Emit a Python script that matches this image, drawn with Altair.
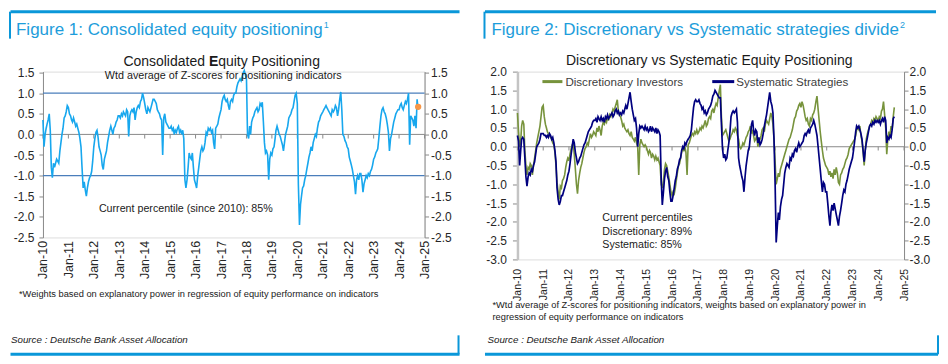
import altair as alt
import pandas as pd

# ---------------- data (semi-monthly readings, 1st and 16th of each month) ----------------
CONS = [
    0.35, -0.3, 0.0, 0.15, 0.25, 0.35, 0.5, 0.1, -0.8, -1.05, -0.7, -0.8, -0.7, -0.6, -0.65, -0.7, -0.4, -0.2, 0.0, 0.15, 0.4, 0.45, 0.55, 0.7,
    0.65, 0.5, 0.45, 0.35, 0.3, 0.4, 0.3, 0.2, 0.25, 0.15, 0.05, -0.1, -0.3, -0.8, -1.3, -1.15, -1.35, -1.5, -1.3, -1.15, -1.05, -1.0, -0.9, -0.65,
    -0.3, -0.1, 0.05, 0.1, -0.05, -0.3, -0.4, -0.5, -0.75, -0.85, -0.6, -0.5, -0.4, -0.2, -0.05, 0.1, 0.2, 0.1, 0.0, 0.15, 0.2, 0.3, 0.35, 0.45,
    0.45, 0.4, 0.5, 0.45, 0.55, 0.5, 0.45, 0.6, 0.55, -0.05, 0.45, 0.55, 0.6, 0.55, 0.65, 0.35, 0.55, 0.65, 0.7, 0.65, 0.8, 0.85, 1.0, 0.9,
    0.75, 0.6, 0.5, 0.65, 0.6, 0.55, 0.65, 0.75, 0.85, 0.85, 0.8, 0.75, 0.6, 0.55, 0.5, 0.4, 0.35, -0.5, 0.4, 0.5, 0.3, 0.25, 0.2, 0.15,
    0.15, 0.2, 0.1, 0.15, 0.0, 0.1, 0.05, 0.15, 0.2, 0.05, 0.1, 0.0, 0.1, -0.1, -1.1, -1.3, -1.1, -0.8, -0.45, -0.55, -0.6, -0.45, -0.8, -1.1,
    -1.2, -1.3, -1.0, -0.8, -0.6, -0.4, -0.3, -0.4, -0.35, -0.2, 0.05, 0.0, 0.15, 0.1, 0.15, 0.05, 0.1, -0.2, -0.35, 0.15, 0.2, 0.25, 0.4, 0.5,
    0.6, 0.8, 0.9, 0.95, 0.85, 0.8, 0.85, 0.7, 0.6, 0.8, 0.85, 0.8, 0.95, 1.0, 1.0, 1.15, 1.25, 1.3, 1.35, 1.3, 1.4, 1.5, 1.55, 1.45,
    1.35, 0.0, -0.1, 0.2, 0.0, 0.3, 0.4, 0.45, 0.55, 0.6, 0.65, 0.55, 0.6, 0.75, 0.7, 0.78, 0.3, -0.2, -0.45, -0.4, -0.5, -1.1, -0.6, -0.45,
    -0.5, -0.35, -0.3, -0.1, 0.1, 0.2, 0.1, 0.0, -0.05, -0.15, -0.25, -0.4, -0.2, 0.0, 0.1, 0.2, 0.4, 0.45, 0.5, 0.6, 0.65, 0.8, 0.95, 1.0,
    0.75, -1.2, -2.2, -1.7, -1.5, -1.3, -1.25, -1.1, -1.0, -0.85, -0.7, -0.55, -0.45, -0.3, -0.4, -0.2, -0.1, 0.0, -0.05, 0.15, 0.3, 0.35, 0.45, 0.5,
    0.55, 0.6, 0.65, 0.7, 0.65, 0.6, 0.55, 0.5, 0.45, 0.6, 0.55, 0.6, 0.7, 0.65, 0.45, 0.6, 0.85, 1.03, 0.6, 0.0, -0.05, -0.15, -0.2, -0.3,
    -0.35, -0.55, -0.65, -0.75, -0.85, -1.0, -1.15, -1.45, -1.1, -1.0, -1.1, -0.95, -0.95, -1.1, -1.4, -1.2, -1.1, -1.0, -1.05, -0.95, -1.0, -0.9, -0.85, -0.75,
    -0.6, -0.55, -0.45, -0.4, -0.35, -0.1, 0.2, 0.45, 0.6, 0.65, 0.55, 0.5, 0.4, 0.25, 0.05, -0.4, -0.1, 0.0, 0.15, 0.3, 0.4, 0.5, 0.55, 0.6,
    0.6, 0.7, 0.75, 0.65, 0.6, 0.7, 0.8, 0.75, 0.85, 1.0, -0.25, 0.45, 0.4, 0.35, 0.2, 0.45, 0.15, 0.85, 0.6,
]
CONS_LATEST = 0.67

DISC = [
    0.9, 0.4, 0.0, 0.15, 0.55, 0.7, 0.6, -0.1, -0.5, -0.75, -0.55, -0.6, -0.45, -0.5, -0.75, -0.5, -0.3, -0.1, 0.1, 0.25, 0.4, 0.55, 0.8, 1.05,
    1.1, 0.8, 0.6, 0.5, 0.4, 0.35, 0.3, 0.25, 0.2, 0.1, 0.05, -0.15, -0.5, -0.95, -1.2, -1.4, -1.05, -1.1, -0.9, -0.85, -0.75, -0.55, -0.4, -0.3,
    -0.35, -0.2, -0.05, 0.05, 0.1, -0.2, -0.6, -1.0, -1.25, -0.9, -0.7, -0.55, -0.45, -0.3, -0.15, -0.05, 0.0, 0.1, 0.05, 0.2, 0.35, 0.25, 0.3, 0.4,
    0.35, 0.3, 0.5, 0.4, 0.55, 0.45, 0.3, 0.55, 0.65, 0.6, 0.7, 0.65, 0.8, 0.7, 0.85, 0.8, 0.9, 1.0, 0.95, 1.05, 1.15, 1.25, 0.95, 0.85,
    0.8, 0.7, 0.55, 0.6, 0.5, 0.45, 0.4, 0.45, 0.35, 0.3, 0.4, 0.25, 0.2, 0.15, 0.25, 0.1, 0.0, -0.75, 0.05, 0.2, 0.1, 0.05, 0.0, 0.05,
    0.0, -0.1, -0.2, -0.1, -0.15, -0.3, -0.2, -0.25, -0.35, -0.25, -0.35, -0.3, -0.4, -0.5, -1.0, -1.1, -0.9, -0.6, -0.45, -0.5, -0.65, -0.8, -1.0, -1.2,
    -1.3, -1.2, -1.25, -1.1, -0.9, -0.7, -0.5, -0.45, -0.3, -0.15, -0.05, -0.1, 0.0, -0.15, -0.75, 0.05, 0.1, 0.2, 0.3, 0.35, 0.3, 0.4, 0.35, 0.45,
    0.35, 0.4, 0.5, 0.45, 0.55, 0.5, 0.6, 0.7, 0.55, 0.6, 0.75, 0.8, 0.75, 0.95, 1.0, 0.9, 1.05, 1.15, 1.1, 1.3, 1.5, 1.65, 0.8, 0.3,
    0.35, 0.4, 0.45, 0.35, 0.25, 0.15, 0.2, 0.3, 0.35, 0.45, 0.4, 0.5, 0.45, 0.3, 0.2, 0.0, -0.05, 0.0, 0.1, 0.05, 0.15, 0.25, 0.3, 0.4,
    0.45, 0.55, 0.35, 0.45, 0.3, 0.15, 0.2, 0.3, 0.0, 0.15, 0.2, 0.3, 0.45, 0.5, 0.4, 0.6, 0.7, 0.65, 0.6, 0.75, 0.9, 0.8, 0.6, 0.2,
    -0.4, -1.0, -0.85, -0.7, -0.8, -0.6, -0.5, -0.4, -0.3, -0.2, -0.1, 0.0, 0.1, 0.2, 0.25, 0.35, 0.45, 0.6, 0.75, 0.8, 0.95, 1.0, 1.1, 1.15,
    1.05, 1.2, 1.1, 0.95, 0.8, 0.7, 0.75, 0.6, 0.55, 0.75, 0.7, 0.85, 0.9, 1.0, 1.2, 1.35, 1.0, 0.7, 0.4, 0.15, -0.1, -0.3, -0.4, -0.5,
    -0.55, -0.6, -0.75, -0.65, -0.8, -0.7, -0.85, -0.6, -0.75, -0.55, -0.7, -0.95, -1.0, -0.75, -0.7, -0.6, -0.55, -0.45, -0.35, -0.3, -0.2, -0.05, 0.0, 0.05,
    0.1, 0.15, 0.2, 0.3, 0.45, 0.5, 0.45, 0.55, 0.3, 0.15, -0.15, -0.5, -0.1, 0.2, 0.35, 0.45, 0.55, 0.6, 0.7, 0.65, 0.75, 0.7, 0.8, 0.75,
    0.7, 0.8, 0.75, 0.95, 1.0, 1.2, 0.85, 0.5, -0.2, 0.2, 0.4, 0.3, 0.55, 0.45, 0.8, 1.05,
]

SYST = [
    0.3, 0.15, -0.5, -0.1, 0.2, 0.25, 0.2, -0.3, -0.8, -1.05, -0.8, -0.7, -0.75, -0.6, -0.65, -0.5, -0.4, -0.2, 0.0, 0.05, 0.1, 0.2, 0.35, 0.35,
    0.35, 0.3, 0.3, 0.25, 0.3, 0.25, 0.35, 0.3, 0.2, 0.25, 0.1, -0.1, -0.4, -1.1, -1.4, -1.55, -1.45, -1.3, -1.3, -1.2, -1.1, -1.0, -0.9, -0.75,
    -0.65, -0.45, -0.2, 0.0, 0.2, 0.1, -0.15, -0.3, -0.45, -0.4, -0.3, -0.25, -0.15, -0.05, 0.05, 0.1, 0.2, 0.3, 0.4, 0.45, 0.5, 0.55, 0.65, 0.7,
    0.7, 0.75, 0.65, 0.8, 0.75, 0.7, 0.8, 0.7, 0.75, 0.65, 0.8, 0.75, 0.85, 0.75, 0.8, 0.85, 0.9, 0.8, 0.85, 0.95, 1.0, 0.9, 0.95, 0.85,
    0.9, 0.85, 0.95, 0.9, 1.0, 1.1, 1.0, 1.15, 1.3, 1.45, 1.2, 1.0, 0.85, 0.7, 0.75, 0.5, 0.0, 0.35, 0.55, 0.5, 0.55, 0.5, 0.45, 0.55,
    0.45, 0.5, 0.4, 0.45, 0.55, 0.4, 0.5, 0.45, 0.4, 0.5, 0.35, 0.45, 0.4, 0.3, -0.9, -1.55, -1.2, -0.85, -0.65, -0.55, -0.8, -0.9, -1.2, -1.45,
    -1.45, -1.3, -1.1, -0.9, -0.8, -0.6, -0.5, -0.35, -0.3, -0.1, 0.0, -0.05, 0.1, 0.05, 0.15, 0.2, 0.25, 0.3, 0.45, 0.75, 1.05, 1.2, 1.25, 1.2,
    1.2, 1.25, 1.15, 1.1, 1.0, 1.05, 0.9, 0.95, 0.85, 0.9, 1.0, 1.05, 1.1, 1.2, 1.35, 1.4, 1.5, 1.45, 1.4, 1.35, 1.3, 1.3, 0.6, -0.05,
    -0.3, -0.2, -0.35, -0.3, -0.1, 0.1, 0.4, 0.8, 0.9, 0.95, 0.9, 0.95, 1.0, 0.65, -0.3, -0.5, -0.65, -0.8, -0.9, -1.2, -0.8, -0.5, -0.3, -0.1,
    0.0, 0.3, 0.6, 0.7, 0.45, 0.3, 0.45, 0.4, 0.1, 0.25, 0.05, 0.1, 0.2, 0.35, 0.55, 0.7, 0.85, 1.05, 1.25, 1.45, 1.2, 1.1, 0.9, 0.2,
    -1.0, -2.55, -2.1, -1.75, -1.95, -1.6, -1.4, -1.3, -1.0, -0.7, -0.55, -0.45, -0.5, -0.55, -0.3, -0.35, -0.2, -0.25, -0.1, -0.05, -0.15, 0.0, 0.1, 0.0,
    0.05, 0.1, 0.15, 0.3, 0.35, 0.3, 0.4, 0.45, 0.35, 0.5, 0.55, 0.6, 0.7, 0.6, 0.45, 0.3, 0.0, -0.3, -0.6, -0.9, -1.2, -0.95, -1.0, -1.2,
    -1.2, -1.5, -1.85, -2.1, -1.75, -1.55, -1.7, -1.5, -1.65, -1.8, -1.95, -2.1, -1.85, -1.7, -1.5, -1.3, -1.15, -1.2, -1.0, -0.9, -0.75, -0.6, -0.5, -0.4,
    -0.3, -0.1, 0.15, 0.4, 0.55, 0.5, 0.55, 0.45, 0.35, 0.2, -0.1, -0.4, -0.1, 0.1, 0.25, 0.4, 0.55, 0.6, 0.55, 0.65, 0.6, 0.7, 0.65, 0.7,
    0.65, 0.7, 0.6, 0.7, 0.75, 0.65, 0.8, 0.7, 0.1, 0.25, 0.2, 0.3, 0.25, 0.45, 0.75, 0.8,
]

TICK_YEARS = list(range(2010, 2026))
Y1_TICKS = [-2.5, -2.0, -1.5, -1.0, -0.5, 0.0, 0.5, 1.0, 1.5]
Y2_TICKS = [-3.0, -2.5, -2.0, -1.5, -1.0, -0.5, 0.0, 0.5, 1.0, 1.5, 2.0]
BANDS = [1.0, -1.0]


def half_month_dates(n):
    out = []
    for k in range(n):
        yr, i = 2010 + k // 24, k % 24
        out.append(pd.Timestamp(year=yr, month=i // 2 + 1, day=1 if i % 2 == 0 else 16))
    return out


cons_df = pd.DataFrame({"date": half_month_dates(len(CONS)), "value": CONS})
disc_df = pd.DataFrame({"date": half_month_dates(len(DISC)), "value": DISC})
syst_df = pd.DataFrame({"date": half_month_dates(len(SYST)), "value": SYST})
dot_df = pd.DataFrame({"date": [cons_df["date"].iloc[-1]], "value": [CONS_LATEST]})
ticks_df = pd.DataFrame({"date": [pd.Timestamp(year=y, month=1, day=1) for y in TICK_YEARS]})
one = pd.DataFrame({"k": [0]})

# ---------------- style ----------------
FONT = "Liberation Sans"
FRAME = "#0a97d9"
TITLE_BLUE = "#1d9ddb"
LINE_BLUE = "#17a7ee"
GREEN = "#77933c"
NAVY = "#00007f"
ORANGE = "#f79646"
STEEL = "#4a7ebb"
GREY = "#8a8a8a"
TXT = "#1a1a1a"

XS = alt.Scale(domain=[alt.DateTime(year=2010, month=1, date=1), alt.DateTime(year=2025, month=1, date=1)])
X_VALUES = [alt.DateTime(year=y, month=1, date=1) for y in TICK_YEARS]
LABEL_EXPR = "replace(format(datum.value, '.1f'), '\u2212', '-')"


def x_enc(pad, size):
    return alt.X("date:T", scale=XS, axis=alt.Axis(
        values=X_VALUES, format="%b-%y", labelAngle=-90, labelPadding=pad,
        domain=False, ticks=False, grid=False, title=None,
        labelFont=FONT, labelFontSize=size, labelColor="#262626"))


def y_axis(orient, ticks, tick_size, pad, dom_color=GREY, dom_width=1):
    return alt.Axis(orient=orient, values=ticks, labelExpr=LABEL_EXPR, grid=False, title=None,
                    domainColor=dom_color, domainWidth=dom_width, tickColor=GREY, tickSize=tick_size,
                    labelPadding=pad, labelFont=FONT, labelFontSize=12, labelColor="#262626")


def text(s, x, y, size, color=TXT, align="left", weight="normal", style="normal", font=FONT):
    return alt.Chart(one).mark_text(align=align, baseline="alphabetic", fontSize=size, font=font,
                                    fontWeight=weight, fontStyle=style, color=color).encode(
        x=alt.value(x), y=alt.value(y), text=alt.value(s))


def hrule(x1, x2, y, color, width):
    return alt.Chart(one).mark_rule(color=color, strokeWidth=width).encode(
        x=alt.value(x1), x2=alt.value(x2), y=alt.value(y))


def vrule(x, y1, y2, color, width):
    return alt.Chart(one).mark_rule(color=color, strokeWidth=width).encode(
        x=alt.value(x), y=alt.value(y1), y2=alt.value(y2))


def frame(right_top, right_bottom, vline_x):
    return [
        hrule(-32.5, right_top, -60, FRAME, 3),
        vrule(-33, -60, -33, FRAME, 2),
        hrule(-32.5, right_bottom, 283, FRAME, 3),
        vrule(vline_x, 264, 283, FRAME, 2),
    ]


# ---------------- left panel ----------------
ys1 = alt.Scale(domain=[-2.5, 1.524], nice=False, zero=False)
ax1 = y_axis("left", Y1_TICKS, 4, 5)
xe1 = x_enc(3, 12.5)

left_inner = alt.layer(
    alt.Chart(one).mark_rule(color=STEEL, strokeWidth=1.3).encode(y=alt.YDatum(BANDS[0], scale=ys1, axis=ax1)),
    alt.Chart(one).mark_rule(color=STEEL, strokeWidth=1.3).encode(y=alt.YDatum(BANDS[1], scale=ys1, axis=ax1)),
    alt.Chart(one).mark_rule(color=GREY, strokeWidth=1).encode(y=alt.YDatum(0, scale=ys1, axis=ax1)),
    alt.Chart(ticks_df).mark_rule(color=GREY, strokeWidth=1).encode(
        x=xe1, y=alt.YDatum(0, scale=ys1, axis=ax1), y2=alt.Y2Datum(-0.1)),
    alt.Chart(cons_df).mark_line(color=LINE_BLUE, strokeWidth=1.6).encode(
        x=xe1, y=alt.Y("value:Q", scale=ys1, axis=ax1)),
    alt.Chart(dot_df).mark_point(filled=True, color=ORANGE, size=40, opacity=1).encode(
        x=xe1, y=alt.Y("value:Q", scale=ys1, axis=ax1)),
    text("Consolidated ", 80.5, -6, 14),
    text("E", 166.1, -6, 14, weight="bold"),
    text("quity Positioning", 175.4, -6, 14),
    text("Wtd average of Z-scores for positioning indicators", 180.5, 7.5, 10.8, align="center"),
    text("Current percentile (since 2010): 85%", 56, 141, 10.7),
    text("*Weights based on explanatory power in regression of equity performance on indicators", -24, 226, 9.3),
    text("Figure 1: Consolidated equity positioning", -27, -37, 17, color=TITLE_BLUE),
    text("1", 281, -44, 9, color=TITLE_BLUE),
    text("Source : Deutsche Bank Asset Allocation", -32, 272, 9.8, style="italic"),
    *frame(417, 417, 416),
)
left_right_axis = alt.Chart(cons_df).mark_line(opacity=0).encode(
    x=xe1, y=alt.Y("value:Q", scale=ys1, axis=y_axis("right", Y1_TICKS, 4, 2)))
left = alt.layer(left_inner, left_right_axis).resolve_scale(y="independent").properties(width=382, height=166)

# ---------------- right panel ----------------
ys2 = alt.Scale(domain=[-3.0, 2.0], nice=False, zero=False)
ax2 = y_axis("left", Y2_TICKS, 5, 6, dom_color="#c4c4c4", dom_width=2.5)
xe2 = x_enc(9, 10.5)

right_inner = alt.layer(
    alt.Chart(one).mark_rule(color=GREY, strokeWidth=1).encode(y=alt.YDatum(0, scale=ys2, axis=ax2)),
    alt.Chart(ticks_df).mark_rule(color=GREY, strokeWidth=1).encode(
        x=xe2, y=alt.YDatum(0, scale=ys2, axis=ax2), y2=alt.Y2Datum(-0.1)),
    alt.Chart(disc_df).mark_line(color=GREEN, strokeWidth=1.6).encode(
        x=xe2, y=alt.Y("value:Q", scale=ys2, axis=ax2)),
    alt.Chart(syst_df).mark_line(color=NAVY, strokeWidth=1.7).encode(
        x=xe2, y=alt.Y("value:Q", scale=ys2, axis=ax2)),
    hrule(25, 45, 10, GREEN, 3),
    text("Discretionary Investors", 48, 14, 11.6, color="#404040"),
    hrule(195, 217, 10, NAVY, 3),
    text("Systematic Strategies", 219, 14, 11.6, color="#404040"),
    text("Discretionary  vs Systematic Equity Positioning", 192, -7, 14, align="center"),
    text("Current percentiles", 85, 149.7, 10.7),
    text("Discretionary: 89%", 85, 163.3, 10.7),
    text("Systematic: 85%", 85, 176.3, 10.7),
    text("*Wtd average of Z-scores for positioning indicators, weights based on explanatory power in", -25, 237, 9.3),
    text("regression of equity performance on indicators", -25, 248.5, 9.3),
    text("Figure 2: Discretionary vs Systematic strategies divide", -26, -37, 17, color=TITLE_BLUE),
    text("2", 383, -44, 9, color=TITLE_BLUE),
    text("Source : Deutsche Bank Asset Allocation", -30, 272, 9.8, style="italic"),
    *frame(419, 421, 421),
)
right_right_axis = alt.Chart(syst_df).mark_line(opacity=0).encode(
    x=xe2, y=alt.Y("value:Q", scale=ys2, axis=y_axis("right", Y2_TICKS, 4, 1)))
right = alt.layer(right_inner, right_right_axis).resolve_scale(y="independent").properties(width=387, height=188)

chart = alt.hconcat(left, right, spacing=93, bounds="flush").properties(
    padding={"left": 0, "top": 1.5, "right": 0, "bottom": 0}
).configure_view(stroke=None).configure(background="white")

chart.save("out.html", embed_options={"renderer": "svg", "actions": False})
